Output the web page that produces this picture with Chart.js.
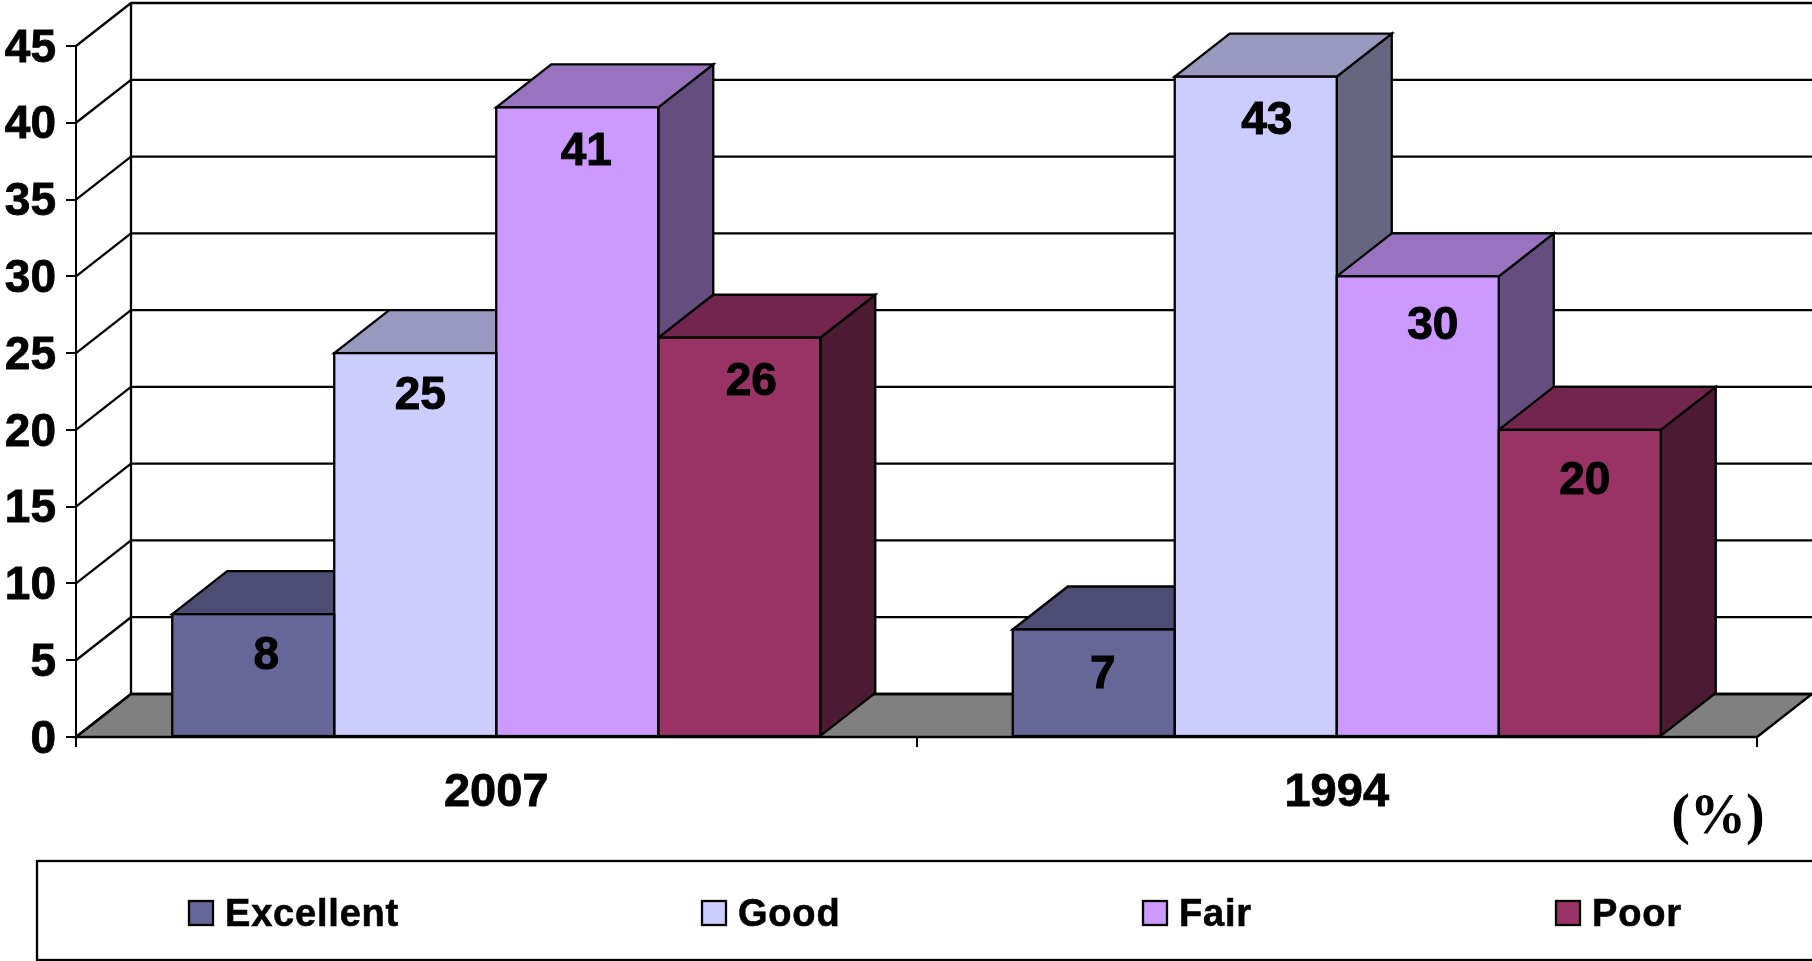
<!DOCTYPE html>
<html>
<head>
<meta charset="utf-8">
<style>html,body{margin:0;padding:0;background:#fff}canvas{display:block}</style>
<script src="https://cdn.jsdelivr.net/npm/chart.js@4"></script>
</head>
<body>
<canvas id="c" width="1812" height="961"></canvas>
<script>
const categories = ['2007', '1994'];
const seriesNames = ['Excellent', 'Good', 'Fair', 'Poor'];
const excellent = [8, 7];
const good = [25, 43];
const fair = [41, 30];
const poor = [26, 20];
const yMax = 45;
const yStep = 5;
const unitLabel = '(%)';

const frontColors = ['#666699', '#CCCCFF', '#CC99FF', '#993366'];
const topColors = ['#4D4D73', '#9999BF', '#9973BF', '#73264D'];
const sideColors = ['#33334D', '#666680', '#664D80', '#4D1A33'];
const labelNudgeX = [[13, 9], [5, 11], [9, 15], [12, 5]];
const labelNudgeY = [[42, 46], [43, 45], [45, 50], [45, 51]];
const legendSwatchX = [189, 702, 1143, 1556];

const DX = 55, DY = 43, LINE = 2.3, FONT = '"Liberation Sans", Arial, sans-serif';

const scene = {
  id: 'scene',
  beforeDatasetsDraw(chart) {
    const c = chart.ctx, a = chart.chartArea, y = chart.scales.y;
    c.save();
    c.lineWidth = LINE; c.strokeStyle = '#000'; c.lineJoin = 'miter';
    // floor
    c.beginPath();
    c.moveTo(a.left, a.bottom); c.lineTo(a.left + DX, a.bottom - DY);
    c.lineTo(a.right + DX, a.bottom - DY); c.lineTo(a.right, a.bottom);
    c.closePath(); c.fillStyle = '#808080'; c.fill(); c.stroke();
    // walls
    y.ticks.forEach(t => {
      const p = y.getPixelForValue(t.value);
      c.beginPath();
      c.moveTo(a.left, p); c.lineTo(a.left + DX, p - DY); c.lineTo(a.right + DX, p - DY);
      c.stroke();
    });
    c.beginPath(); c.moveTo(a.left + DX, a.bottom - DY); c.lineTo(a.left + DX, a.top - DY); c.stroke();
    // sides and tops, left to right
    const metas = chart.getSortedVisibleDatasetMetas();
    for (let k = 0; k < categories.length; k++) {
      metas.forEach((m, i) => {
        const b = m.data[k], l = b.x - b.width / 2, r = b.x + b.width / 2, top = b.y, bot = b.base;
        c.beginPath();
        c.moveTo(r, top); c.lineTo(r + DX, top - DY); c.lineTo(r + DX, bot - DY); c.lineTo(r, bot); c.closePath();
        c.fillStyle = sideColors[i]; c.fill(); c.stroke();
        c.beginPath();
        c.moveTo(l, top); c.lineTo(l + DX, top - DY); c.lineTo(r + DX, top - DY); c.lineTo(r, top); c.closePath();
        c.fillStyle = topColors[i]; c.fill(); c.stroke();
      });
    }
    c.restore();
  },
  afterDatasetsDraw(chart) {
    const c = chart.ctx;
    c.save();
    c.lineWidth = LINE; c.strokeStyle = '#000';
    const metas = chart.getSortedVisibleDatasetMetas();
    metas.forEach((m, i) => m.data.forEach((b, k) => {
      c.strokeRect(b.x - b.width / 2, b.y, b.width, b.base - b.y);
    }));
    c.fillStyle = '#000'; c.textAlign = 'center'; c.textBaseline = 'middle';
    c.font = 'bold 46px ' + FONT;
    c.lineWidth = 1;
    metas.forEach((m, i) => m.data.forEach((b, k) => {
      const s = String(chart.data.datasets[i].data[k]);
      c.fillText(s, b.x + labelNudgeX[i][k], b.y + labelNudgeY[i][k]);
      c.strokeText(s, b.x + labelNudgeX[i][k], b.y + labelNudgeY[i][k]);
    }));
    // unit
    c.font = 'bold 56px "Liberation Serif", "Times New Roman", serif';
    c.fillText(unitLabel, 1718, 819);
    // legend box
    c.lineWidth = LINE;
    c.strokeRect(37, 861, 1800, 99);
    c.textAlign = 'left'; c.textBaseline = 'alphabetic';
    c.font = 'bold 38px ' + FONT;
    if ('letterSpacing' in c) c.letterSpacing = '0.8px';
    seriesNames.forEach((n, i) => {
      const x = legendSwatchX[i];
      c.fillStyle = frontColors[i];
      c.fillRect(x, 901, 24, 24);
      c.strokeRect(x, 901, 24, 24);
      c.fillStyle = '#000';
      c.fillText(n, x + 36, 926);
      c.lineWidth = 0.6;
      c.strokeText(n, x + 36, 926);
      c.lineWidth = LINE;
    });
    c.restore();
  }
};

new Chart(document.getElementById('c'), {
  type: 'bar',
  data: {
    labels: categories,
    datasets: [excellent, good, fair, poor].map((d, i) => ({
      label: seriesNames[i], data: d, backgroundColor: frontColors[i], borderWidth: 0,
      categoryPercentage: 0.771, barPercentage: 1, clip: false
    }))
  },
  options: {
    responsive: false,
    animation: false,
    layout: { padding: { top: 46, right: 55, bottom: 0, left: 0 } },
    plugins: { legend: { display: false }, tooltip: { enabled: false }, title: { display: false } },
    scales: {
      x: {
        afterFit(s) { s.height = 224; },
        grid: { drawOnChartArea: false, color: '#000', lineWidth: 2, tickLength: 10 },
        border: { color: '#000', width: 2 },
        ticks: { color: '#000', font: { family: 'Liberation Sans', size: 47, weight: 'bold' }, padding: 18, maxRotation: 0, textStrokeColor: '#000', textStrokeWidth: 0.8 }
      },
      y: {
        min: 0, max: yMax,
        afterFit(s) { s.width = 76; },
        grid: { drawOnChartArea: false, color: '#000', lineWidth: 2, tickLength: 10 },
        border: { color: '#000', width: 2 },
        ticks: { stepSize: yStep, color: '#000', font: { family: 'Liberation Sans', size: 46, weight: 'bold' }, padding: 10, labelOffset: 3, textStrokeColor: '#000', textStrokeWidth: 0.8 }
      }
    }
  },
  plugins: [scene]
});
</script>
</body>
</html>
